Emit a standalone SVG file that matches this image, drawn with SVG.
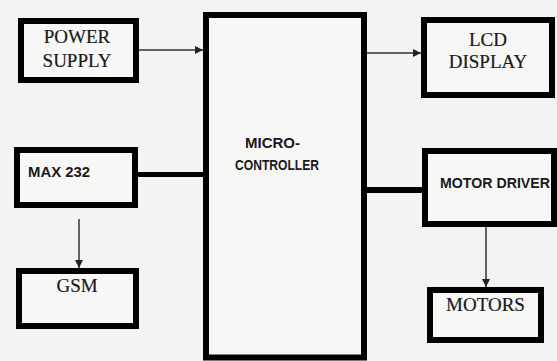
<svg xmlns="http://www.w3.org/2000/svg" width="557" height="361" viewBox="0 0 557 361">
<style>
.box{fill:#f7f7f6;stroke:#000;stroke-width:6}
.serif{font-family:"Liberation Serif","Times New Roman",serif;font-size:19px;fill:#1a1a1a;text-anchor:middle;stroke:#1a1a1a;stroke-width:0.2}
.sans{font-family:"Liberation Sans",Arial,sans-serif;font-weight:bold;font-size:15px;fill:#1a1a1a}
.thin{stroke:#333;stroke-width:1.5;fill:none}
.thick{stroke:#000;stroke-width:6;fill:none}
</style>
<defs>
<marker id="ah" viewBox="0 0 8 8" refX="8" refY="4" markerWidth="8" markerHeight="8" markerUnits="userSpaceOnUse" orient="auto">
<path d="M0,0 L8,4 L0,8 Z" fill="#222"/>
</marker>
</defs>
<rect width="557" height="361" fill="#f3f3f2"/>
<g id="connectors">
<line class="thin" x1="139" y1="50" x2="203" y2="50" marker-end="url(#ah)"/>
<line class="thin" x1="367" y1="53" x2="421" y2="53" marker-end="url(#ah)"/>
<line class="thin" x1="79" y1="219" x2="79" y2="268" marker-end="url(#ah)"/>
<line class="thin" x1="486" y1="227" x2="486" y2="287" marker-end="url(#ah)"/>
<line class="thick" x1="138" y1="174.5" x2="206" y2="174.5" style="stroke-width:5"/>
<line class="thick" x1="364" y1="190" x2="425" y2="190"/>
</g>
<g id="power-supply">
<rect class="box" x="21" y="21" width="115" height="59"/>
<text class="serif" x="77" y="43">POWER</text>
<text class="serif" x="77" y="67">SUPPLY</text>
</g>
<g id="microcontroller">
<rect class="box" x="206" y="15" width="158" height="342.5"/>
<text class="sans" x="245" y="147.5" textLength="55" lengthAdjust="spacingAndGlyphs">MICRO-</text>
<text class="sans" x="235" y="169.5" textLength="84" lengthAdjust="spacingAndGlyphs">CONTROLLER</text>
</g>
<g id="lcd-display">
<rect class="box" x="424" y="20" width="128" height="75"/>
<text class="serif" x="488" y="46">LCD</text>
<text class="serif" x="488" y="68">DISPLAY</text>
</g>
<g id="max232">
<rect class="box" x="17" y="150" width="118" height="55"/>
<text class="sans" x="28" y="176.5" textLength="62" lengthAdjust="spacingAndGlyphs">MAX 232</text>
</g>
<g id="gsm">
<rect class="box" x="19" y="271" width="117" height="55"/>
<text class="serif" x="77" y="292">GSM</text>
</g>
<g id="motor-driver">
<rect class="box" x="425" y="151" width="129" height="73"/>
<text class="sans" x="440" y="187.5" textLength="110" lengthAdjust="spacingAndGlyphs">MOTOR DRIVER</text>
</g>
<g id="motors">
<rect class="box" x="430" y="290" width="111" height="50"/>
<text class="serif" x="485.5" y="311">MOTORS</text>
</g>
</svg>
